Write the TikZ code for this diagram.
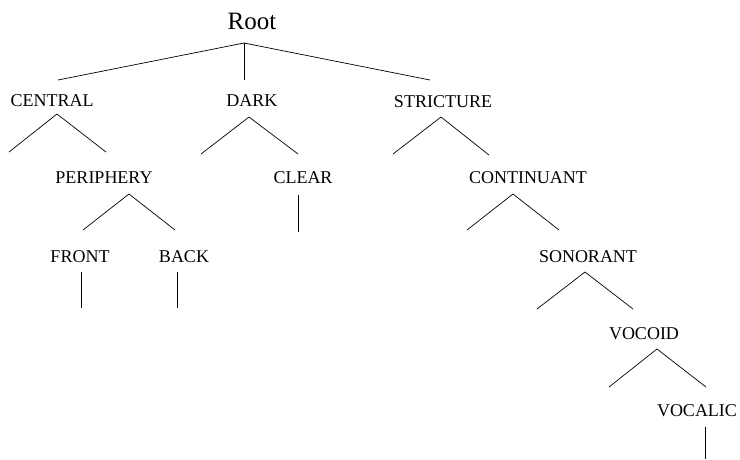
\documentclass[tikz,border=0pt]{standalone}
\usepackage{fontspec}
\setmainfont{Liberation Serif}
\usetikzlibrary{positioning}
\tikzset{feat/.style={inner sep=0pt, anchor=base, font=\fontsize{18}{18}\selectfont}}
\tikzset{top/.style={feat, font=\fontsize{25}{25}\selectfont}}
\tikzset{leg/.style={line width=0.7pt}}

\begin{document}
\begin{tikzpicture}[x=1pt, y=-1pt]
        \useasboundingbox (0,0) rectangle (740,459);
        \node[top] (root) at (252,29) {Root};
        \coordinate (r0) at (244,43);
        \node[feat] (central) at (52,106) {CENTRAL};
        \node[feat] (dark) at (252,106) {DARK};
        \node[feat] (strict) at (443,107) {STRICTURE};
        \coordinate (r1) at (58,80);
        \coordinate (r2) at (244,80);
        \coordinate (r3) at (430,80);
        \draw[leg] (r0) -- (r1);
        \draw[leg] (r0) -- (r2);
        \draw[leg] (r0) -- (r3);
        % central
        \coordinate (c0) at (57,114);
        \coordinate (c1) at (9,152);
        \coordinate (c2) at (106,152);
        \draw[leg] (c1) -- (c0) -- (c2);
        \node[feat] (periph) at (104,183) {PERIPHERY};
        \coordinate (p0) at (129,194);
        \coordinate (p1) at (83,230);
        \coordinate (p2) at (175,230);
        \draw[leg] (p1) -- (p0) -- (p2);
        \node[feat] (front) at (80,262) {FRONT};
        \node[feat] (back) at (184,262) {BACK};
        \coordinate (f0) at (81,272);
        \coordinate (f1) at (81,308);
        \coordinate (b0) at (177,272);
        \coordinate (b1) at (177,308);
        \draw[leg] (f0) -- (f1);
        \draw[leg] (b0) -- (b1);
        % dark
        \coordinate (d0) at (249,117);
        \coordinate (d1) at (201,154);
        \coordinate (d2) at (298,154);
        \draw[leg] (d1) -- (d0) -- (d2);
        \node[feat] (clear) at (303,183) {CLEAR};
        \coordinate (cl0) at (298,195);
        \coordinate (cl1) at (298,232);
        \draw[leg] (cl0) -- (cl1);
        % stricture
        \coordinate (s0) at (441,117);
        \coordinate (s1) at (393,154);
        \coordinate (s2) at (489,155);
        \draw[leg] (s1) -- (s0) -- (s2);
        \node[feat] (cont) at (528,183) {CONTINUANT};
        \coordinate (co0) at (513,194);
        \coordinate (co1) at (467,230);
        \coordinate (co2) at (559,230);
        \draw[leg] (co1) -- (co0) -- (co2);
        \node[feat] (son) at (588,262) {SONORANT};
        \coordinate (so0) at (585,272);
        \coordinate (so1) at (537,309);
        \coordinate (so2) at (633,309);
        \draw[leg] (so1) -- (so0) -- (so2);
        \node[feat] (voc) at (644,339) {VOCOID};
        \coordinate (v0) at (657,349);
        \coordinate (v1) at (609,387);
        \coordinate (v2) at (706,387);
        \draw[leg] (v1) -- (v0) -- (v2);
        \node[feat] (vocal) at (697,416) {VOCALIC};
        \coordinate (vl0) at (705,427);
        \coordinate (vl1) at (705,459);
        \draw[leg] (vl0) -- (vl1);
\end{tikzpicture}
\end{document}
